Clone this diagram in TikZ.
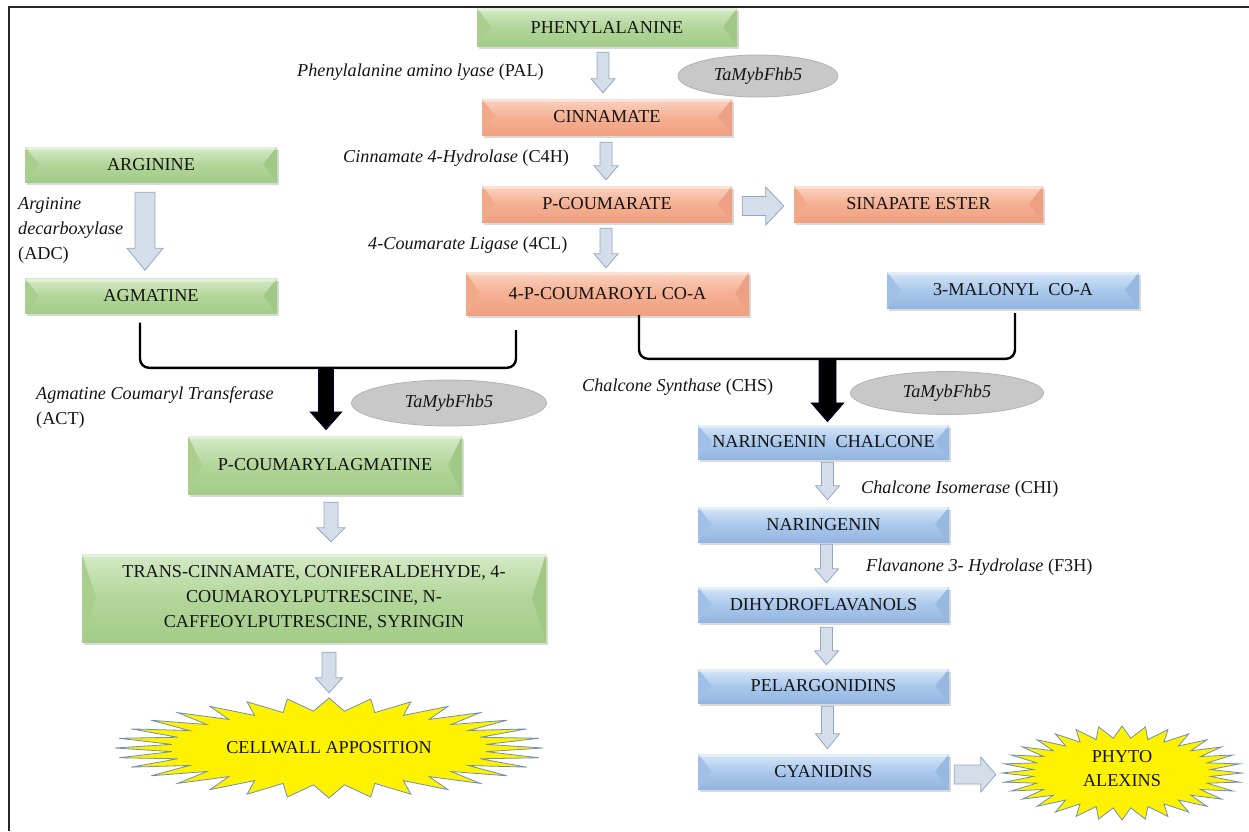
\documentclass[tikz,border=0pt]{standalone}
\usepackage{fontspec}
\setmainfont{Liberation Serif}
\usetikzlibrary{calc,shadows,shapes.geometric}
\definecolor{txt}{HTML}{141414}
\definecolor{gT}{HTML}{D4EAC6}\definecolor{gM}{HTML}{B2D69A}\definecolor{gB}{HTML}{A3CC87}
\definecolor{gL}{HTML}{A9CE8E}\definecolor{gR}{HTML}{A0C985}
\definecolor{oT}{HTML}{FBD3C0}\definecolor{oM}{HTML}{F4B093}\definecolor{oB}{HTML}{F0A07F}
\definecolor{oL}{HTML}{F2A98A}\definecolor{oR}{HTML}{EDA083}
\definecolor{bT}{HTML}{D6E6F8}\definecolor{bM}{HTML}{AAC8EC}\definecolor{bB}{HTML}{93B5E0}
\definecolor{bL}{HTML}{A1C0E7}\definecolor{bR}{HTML}{97B8E0}
\definecolor{arrF}{HTML}{D5DDE8}\definecolor{arrD}{HTML}{8FA8C8}
\definecolor{elF}{HTML}{C8C8C8}\definecolor{elD}{HTML}{B2B2B2}
\definecolor{burstD}{HTML}{6F8FB5}
\newcommand\bx{\fontsize{18.2}{25}\selectfont}
\newcommand\bevelsides[2]{%
  \fill[#1] (path picture bounding box.north west) -- ([xshift=14pt]path picture bounding box.west) -- (path picture bounding box.south west) -- cycle;
  \fill[#2] (path picture bounding box.north east) -- ([xshift=-14pt]path picture bounding box.east) -- (path picture bounding box.south east) -- cycle;
  \fill[white,opacity=0.35] (path picture bounding box.north west) rectangle ([yshift=-3pt]path picture bounding box.north east);}
\newcommand\varr[6]{%
  \filldraw[#6] let \p1=(#1), \p2=(#2) in (\x1-#3,\y1) -- (\x1+#3,\y1) -- (\x1+#3,\y2+#5) -- (\x1+#4,\y2+#5) -- (\x1,\y2) -- (\x1-#4,\y2+#5) -- (\x1-#3,\y2+#5) -- cycle;}
\newcommand\harr[6]{%
  \filldraw[#6] let \p1=(#1), \p2=(#2) in (\x1,\y1+#3) -- (\x2-#5,\y1+#3) -- (\x2-#5,\y1+#4) -- (\x2,\y1) -- (\x2-#5,\y1-#4) -- (\x2-#5,\y1-#3) -- (\x1,\y1-#3) -- cycle;}
\tikzset{
  box/.style={rectangle, inner sep=0pt, font=\bx, text=txt, align=center,
    drop shadow={shadow xshift=1.5pt, shadow yshift=-2.5pt, opacity=0.3}},
  gbox/.style={box, top color=gT, bottom color=gB, middle color=gM, path picture={\bevelsides{gL}{gR}}},
  obox/.style={box, top color=oT, bottom color=oB, middle color=oM, path picture={\bevelsides{oL}{oR}}},
  bbox/.style={box, top color=bT, bottom color=bB, middle color=bM, path picture={\bevelsides{bL}{bR}}},
  lbl/.style={anchor=west, inner sep=0pt, font=\bx, text=txt, align=left},
  gel/.style={ellipse, fill=elF, draw=elD, line width=0.8pt, inner sep=0pt, font=\bx, text=txt},
  hol/.style={fill=arrF, draw=arrD, line width=0.8pt},
  blk/.style={fill=black, draw=black!75!blue, line width=0.6pt},
  bracket/.style={draw=black, line width=2.4pt, rounded corners=9pt},
  burst/.style={fill=yellow, draw=burstD, line width=0.8pt},
  startxt/.style={inner sep=0pt, font=\bx, text=txt, align=center}
}
\begin{document}
\begin{tikzpicture}[x=1pt,y=-1pt]
\useasboundingbox (0,0) rectangle (1249,831);
\draw[line width=2pt, black!85] (9,831) -- (9,7) -- (1249,7);

% central column
\node[gbox, minimum width=260pt, minimum height=38pt] (phe) at (607,27) {PHENYLALANINE};
\node[obox, minimum width=250pt, minimum height=36pt] (cin) at (607,117) {CINNAMATE};
\node[obox, minimum width=250pt, minimum height=36pt] (pcou) at (607,204) {P-COUMARATE};
\node[obox, minimum width=249pt, minimum height=36pt] (sin) at (918.5,204) {SINAPATE ESTER};
\node[obox, minimum width=283pt, minimum height=43pt] (pca) at (607.5,293.5) {4-P-COUMAROYL CO-A};
\node[bbox, minimum width=252pt, minimum height=36pt] (mal) at (1013,290) {3-MALONYL\ \ CO-A};

% left column
\node[gbox, minimum width=252pt, minimum height=35pt] (arg) at (151,164.5) {ARGININE};
\node[gbox, minimum width=252pt, minimum height=35pt] (agm) at (151,296) {AGMATINE};
\node[gbox, minimum width=274pt, minimum height=58pt] (pcag) at (325,465) {P-COUMARYLAGMATINE};
\node[gbox, minimum width=464pt, minimum height=88pt] (trans) at (314,598)
  {TRANS-CINNAMATE, CONIFERALDEHYDE, 4-\\COUMAROYLPUTRESCINE, N-\\CAFFEOYLPUTRESCINE, SYRINGIN};

% right column
\node[bbox, minimum width=251pt, minimum height=34pt] (nc) at (823.5,442) {NARINGENIN\ \ CHALCONE};
\node[bbox, minimum width=251pt, minimum height=35pt] (nar) at (823.5,524.5) {NARINGENIN};
\node[bbox, minimum width=251pt, minimum height=35pt] (dih) at (823.5,604.5) {DIHYDROFLAVANOLS};
\node[bbox, minimum width=251pt, minimum height=34pt] (pel) at (823.5,686) {PELARGONIDINS};
\node[bbox, minimum width=251pt, minimum height=35pt] (cya) at (823.5,771.5) {CYANIDINS};

% ellipses
\node[gel, minimum width=160pt, minimum height=42pt] (e1) at (758,76) {\textit{TaMybFhb5}};
\node[gel, minimum width=195pt, minimum height=46pt] (e2) at (449,403) {\textit{TaMybFhb5}};
\node[gel, minimum width=193pt, minimum height=43pt] (e3) at (947,393) {\textit{TaMybFhb5}};

% starbursts
\coordinate (cwc) at (329,748);
\filldraw[burst] ($(cwc)+(214,0)$) \foreach \k in {1,...,63}{ -- ($(cwc)+({(214-56*mod(\k,2))*cos(\k*5.625)},{(50-13*mod(\k,2))*sin(\k*5.625)})$) } -- cycle;
\node[startxt, minimum width=428pt, minimum height=100pt] (cw) at (cwc) {CELLWALL APPOSITION};
\coordinate (pac) at (1122,773);
\filldraw[burst] ($(pac)+(120,0)$) \foreach \k in {1,...,63}{ -- ($(pac)+({(120-31*mod(\k,2))*cos(\k*5.625)},{(47-12*mod(\k,2))*sin(\k*5.625)})$) } -- cycle;
\node[startxt, minimum width=240pt, minimum height=94pt] (pa) at (1122,769) {PHYTO\\[-1pt]ALEXINS};

% labels
\node[lbl] (lpal) at (297,72) {\textit{Phenylalanine amino lyase} (PAL)};
\node[lbl] (lc4h) at (343,158) {\textit{Cinnamate 4-Hydrolase} (C4H)};
\node[lbl] (l4cl) at (368,245) {\textit{4-Coumarate Ligase} (4CL)};
\node[lbl] (ladc) at (18,230) {\textit{Arginine}\\\textit{decarboxylase}\\(ADC)};
\node[lbl] (lact) at (36,408) {\textit{Agmatine Coumaryl Transferase}\\(ACT)};
\node[lbl] (lchs) at (582,387) {\textit{Chalcone Synthase} (CHS)};
\node[lbl] (lchi) at (861,489) {\textit{Chalcone Isomerase} (CHI)};
\node[lbl] (lf3h) at (866,567) {\textit{Flavanone 3- Hydrolase} (F3H)};

% arrow end points
\coordinate (a1t) at ($(phe.south)+(-4,6)$);   \coordinate (a1h) at ($(cin.north)+(-4,-6)$);
\coordinate (a2t) at ($(cin.south)+(-1,7)$);   \coordinate (a2h) at ($(pcou.north)+(-1,-6)$);
\coordinate (a3t) at ($(pcou.south)+(-1,6)$);  \coordinate (a3h) at ($(pca.north)+(-1,-4)$);
\coordinate (a4t) at ($(arg.south)+(-6,10)$);  \coordinate (a4h) at ($(agm.north)+(-6,-8)$);
\coordinate (a5t) at ($(pcag.south)+(6,8)$);   \coordinate (a5h) at ($(trans.north)+(17,-12)$);
\coordinate (a6t) at ($(trans.south)+(15,10)$);\coordinate (a6h) at ($(cw.north)+(0,-5)$);
\coordinate (a7t) at ($(nc.south)+(4,3)$);     \coordinate (a7h) at ($(nar.north)+(4,-7)$);
\coordinate (a8t) at ($(nar.south)+(3,2)$);    \coordinate (a8h) at ($(dih.north)+(3,-4)$);
\coordinate (a9t) at ($(dih.south)+(3,5)$);    \coordinate (a9h) at ($(pel.north)+(3,-4)$);
\coordinate (a10t) at ($(pel.south)+(4,3)$);   \coordinate (a10h) at ($(cya.north)+(4,-5)$);
\coordinate (h1t) at ($(pcou.east)+(10,2)$);   \coordinate (h1h) at ($(sin.west)+(-10,2)$);
\coordinate (h2t) at ($(cya.east)+(5,3)$);     \coordinate (h2h) at ($(pa.west)+(-6,4)$);

\varr{a1t}{a1h}{6pt}{12pt}{14pt}{hol}
\varr{a2t}{a2h}{6pt}{12pt}{14pt}{hol}
\varr{a3t}{a3h}{6pt}{12pt}{14pt}{hol}
\varr{a4t}{a4h}{10pt}{18pt}{22pt}{hol}
\varr{a5t}{a5h}{7pt}{14pt}{14pt}{hol}
\varr{a6t}{a6h}{7pt}{13.5pt}{15pt}{hol}
\varr{a7t}{a7h}{6pt}{12pt}{14pt}{hol}
\varr{a8t}{a8h}{6pt}{12pt}{14pt}{hol}
\varr{a9t}{a9h}{6pt}{12pt}{14pt}{hol}
\varr{a10t}{a10h}{6pt}{12pt}{15pt}{hol}
\harr{h1t}{h1h}{9.5pt}{19pt}{18pt}{hol}
\harr{h2t}{h2h}{9.5pt}{17.5pt}{15pt}{hol}

% brackets and black arrows
\coordinate (bl1) at ($(agm.south)+(-11,9)$);
\coordinate (br1) at ($(pca.south)+(-91.5,15)$);
\coordinate (bj1) at ($(pcag.north)+(1,-68)$);
\coordinate (bh1) at ($(pcag.north)+(1,-6)$);
\draw[bracket] (bl1) |- (bj1) -| (br1);
\varr{bj1}{bh1}{7.5pt}{16pt}{18pt}{blk}

\coordinate (bl2) at ($(pca.south)+(31.5,0)$);
\coordinate (br2) at ($(mal.south)+(2,5)$);
\coordinate (bj2) at ($(nc.north)+(4,-66)$);
\coordinate (bh2) at ($(nc.north)+(4,-3)$);
\draw[bracket] (bl2) |- (bj2) -| (br2);
\varr{bj2}{bh2}{8.5pt}{16.5pt}{19pt}{blk}
\end{tikzpicture}
\end{document}
